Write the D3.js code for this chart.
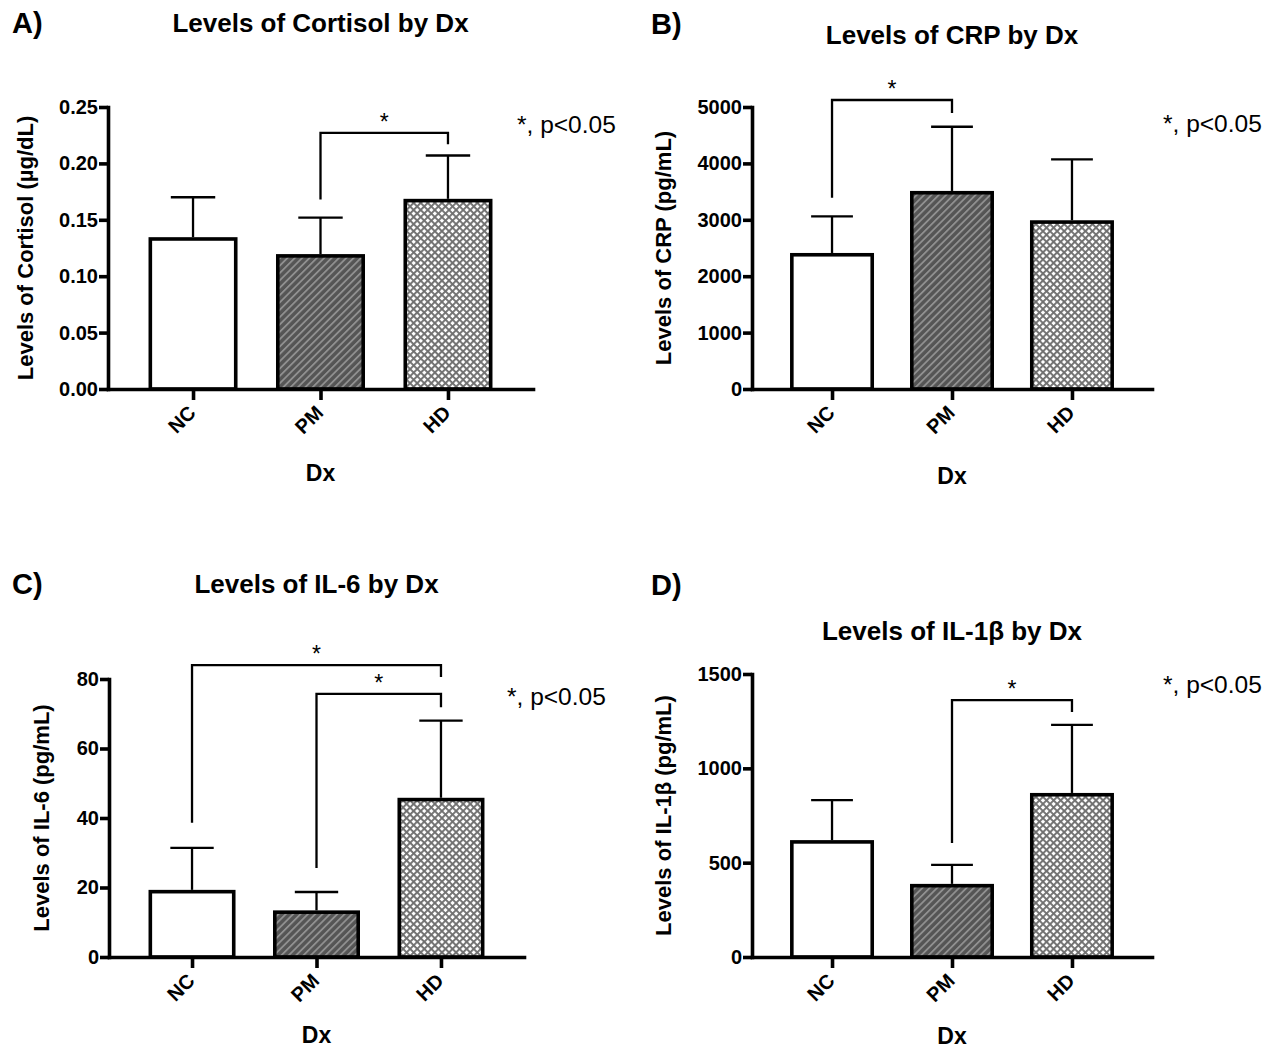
<!DOCTYPE html>
<html>
<head>
<meta charset="utf-8">
<script src="https://cdn.jsdelivr.net/npm/d3@7"></script>
<style>
  body { margin: 0; background: #fff; }
  svg { display: block; }
  text { font-family: "Liberation Sans", Arial, Helvetica, sans-serif; fill: #000; }
</style>
</head>
<body>
<svg></svg>
<script>
// constants
const WIDTH = 1273;
const HEIGHT = 1055;

// data
const groups = ['NC', 'PM', 'HD'];

const cortisolMean = [0.133, 0.118, 0.167];
const cortisolErr = [0.037, 0.034, 0.040];
const cortisolTicks = [0, 0.05, 0.10, 0.15, 0.20, 0.25];
// [from group, to group, bracket level, left leg end, right leg end]
const cortisolSig = [[1, 2, 0.227, 0.168, 0.217]];

const crpMean = [2380, 3480, 2960];
const crpErr = [680, 1170, 1110];
const crpTicks = [0, 1000, 2000, 3000, 4000, 5000];
const crpSig = [[0, 1, 5124, 3390, 4894]];

const il6Mean = [18.8, 12.9, 45.3];
const il6Err = [12.6, 5.8, 22.7];
const il6Ticks = [0, 20, 40, 60, 80];
const il6Sig = [[0, 2, 84.0, 38.6, 80.6], [1, 2, 75.7, 25.6, 71.9]];

const il1bMean = [610, 378, 860];
const il1bErr = [222, 110, 370];
const il1bTicks = [0, 500, 1000, 1500];
const il1bSig = [[1, 2, 1362, 604, 1299]];

const pText = '*, p<0.05';

// panel setup (text + layout)
const panels = [
    {letter: 'A)', title: 'Levels of Cortisol by Dx', yLabel: 'Levels of Cortisol (µg/dL)',
     mean: cortisolMean, err: cortisolErr, ticks: cortisolTicks, fmt: d3.format('.2f'), sig: cortisolSig,
     x0: 108, x1: 533, yTop: 107, yBottom: 389,
     letterPos: [12, 33], titleY: 32, pPos: [517, 133], dxY: 481, yLabelX: 33},
    {letter: 'B)', title: 'Levels of CRP by Dx', yLabel: 'Levels of CRP (pg/mL)',
     mean: crpMean, err: crpErr, ticks: crpTicks, fmt: d3.format('d'), sig: crpSig,
     x0: 752, x1: 1152, yTop: 107, yBottom: 389,
     letterPos: [651, 34], titleY: 44, pPos: [1163, 132], dxY: 484, yLabelX: 671},
    {letter: 'C)', title: 'Levels of IL-6 by Dx', yLabel: 'Levels of IL-6 (pg/mL)',
     mean: il6Mean, err: il6Err, ticks: il6Ticks, fmt: d3.format('d'), sig: il6Sig,
     x0: 109, x1: 524, yTop: 679, yBottom: 957,
     letterPos: [12, 594], titleY: 593, pPos: [507, 705], dxY: 1043, yLabelX: 49},
    {letter: 'D)', title: 'Levels of IL-1β by Dx', yLabel: 'Levels of IL-1β (pg/mL)',
     mean: il1bMean, err: il1bErr, ticks: il1bTicks, fmt: d3.format('d'), sig: il1bSig,
     x0: 752, x1: 1152, yTop: 674, yBottom: 957,
     letterPos: [651, 595], titleY: 640, pPos: [1163, 693], dxY: 1044, yLabelX: 671}
];

const fills = ['#ffffff', 'url(#stripes)', 'url(#crosshatch)'];

//svg
const svg = d3.select('svg')
    .attr('width', WIDTH)
    .attr('height', HEIGHT);

// patterns
const defs = svg.append('defs');
const stripes = defs.append('pattern')
    .attr('id', 'stripes')
    .attr('width', 5.2).attr('height', 5.2)
    .attr('patternUnits', 'userSpaceOnUse')
    .attr('patternTransform', 'rotate(45)');
stripes.append('rect').attr('width', 5.2).attr('height', 5.2).attr('fill', '#555555');
stripes.append('rect').attr('width', 1.8).attr('height', 5.2).attr('fill', '#909090');

const hatch = defs.append('pattern')
    .attr('id', 'crosshatch')
    .attr('width', 5).attr('height', 5)
    .attr('patternUnits', 'userSpaceOnUse')
    .attr('patternTransform', 'rotate(45)');
hatch.append('rect').attr('width', 5).attr('height', 5).attr('fill', '#ffffff');
hatch.append('rect').attr('width', 1.9).attr('height', 5).attr('fill', '#707070');
hatch.append('rect').attr('width', 5).attr('height', 1.9).attr('fill', '#707070');

panels.forEach(p => drawPanel(p));

function drawPanel(p) {
    const g = svg.append('g');

    const x = d3.scalePoint()
        .domain(groups)
        .range([p.x0, p.x1])
        .padding(0.667);
    const y = d3.scaleLinear()
        .domain([0, d3.max(p.ticks)])
        .range([p.yBottom, p.yTop]);

    const step = x.step();
    const barW = step * 0.67;
    const capW = barW * 0.26;

    const rows = groups.map((k, i) => ({key: k, mean: p.mean[i], err: p.err[i], fill: fills[i]}));

    // bars
    g.selectAll('rect.bar')
        .data(rows).join('rect')
        .attr('class', 'bar')
        .attr('x', d => x(d.key) - barW / 2)
        .attr('y', d => y(d.mean))
        .attr('width', barW)
        .attr('height', d => y(0) - y(d.mean))
        .attr('fill', d => d.fill)
        .attr('stroke', '#000')
        .attr('stroke-width', 3.6);

    // error bars (upper only)
    const eb = g.selectAll('g.err').data(rows).join('g').attr('class', 'err')
        .attr('stroke', '#000').attr('stroke-width', 2.3);
    eb.append('line')
        .attr('x1', d => x(d.key)).attr('x2', d => x(d.key))
        .attr('y1', d => y(d.mean) - 1.8).attr('y2', d => y(d.mean + d.err));
    eb.append('line')
        .attr('x1', d => x(d.key) - capW).attr('x2', d => x(d.key) + capW)
        .attr('y1', d => y(d.mean + d.err)).attr('y2', d => y(d.mean + d.err));

    // axes
    const yAxis = g.append('g')
        .attr('transform', `translate(${p.x0},0)`)
        .call(d3.axisLeft(y).tickValues(p.ticks).tickFormat(p.fmt).tickSize(9).tickSizeOuter(0).tickPadding(1));
    const xAxis = g.append('g')
        .attr('transform', `translate(0,${p.yBottom})`)
        .call(d3.axisBottom(x).tickSize(11).tickSizeOuter(0).tickFormat(''));
    [yAxis, xAxis].forEach(a => {
        a.select('.domain').attr('stroke-width', 3.6).attr('stroke-linecap', 'square');
        a.selectAll('.tick line').attr('stroke-width', 3.6);
    });
    yAxis.selectAll('.tick text')
        .attr('font-size', 20).attr('font-weight', 'bold')
        .attr('font-family', '"Liberation Sans", Arial, sans-serif');

    // rotated category labels
    g.selectAll('text.cat')
        .data(groups).join('text')
        .attr('class', 'cat')
        .attr('transform', d => `translate(${x(d) + 4},${p.yBottom + 25}) rotate(-45)`)
        .attr('text-anchor', 'end')
        .attr('font-size', 20)
        .attr('font-weight', 'bold')
        .text(d => d);

    // significance brackets
    p.sig.forEach(s => {
        const xa = x(groups[s[0]]), xb = x(groups[s[1]]);
        g.append('path')
            .attr('d', `M${xa},${y(s[3])}V${y(s[2])}H${xb}V${y(s[4])}`)
            .attr('fill', 'none')
            .attr('stroke', '#000')
            .attr('stroke-width', 2.3);
        g.append('text')
            .attr('x', (xa + xb) / 2)
            .attr('y', y(s[2]) - 3)
            .attr('text-anchor', 'middle')
            .attr('font-size', 23)
            .text('*');
    });

    // texts
    g.append('text')
        .attr('x', p.letterPos[0]).attr('y', p.letterPos[1])
        .attr('font-size', 29).attr('font-weight', 'bold')
        .text(p.letter);
    g.append('text')
        .attr('x', x(groups[1])).attr('y', p.titleY)
        .attr('text-anchor', 'middle')
        .attr('font-size', 26).attr('font-weight', 'bold')
        .text(p.title);
    g.append('text')
        .attr('x', x(groups[1])).attr('y', p.dxY)
        .attr('text-anchor', 'middle')
        .attr('font-size', 23).attr('font-weight', 'bold')
        .text('Dx');
    g.append('text')
        .attr('transform', `translate(${p.yLabelX},${(p.yTop + p.yBottom) / 2}) rotate(-90)`)
        .attr('text-anchor', 'middle')
        .attr('font-size', 22).attr('font-weight', 'bold')
        .text(p.yLabel);
    g.append('text')
        .attr('x', p.pPos[0]).attr('y', p.pPos[1])
        .attr('font-size', 24.5)
        .text(pText);
}
</script>
</body>
</html>
